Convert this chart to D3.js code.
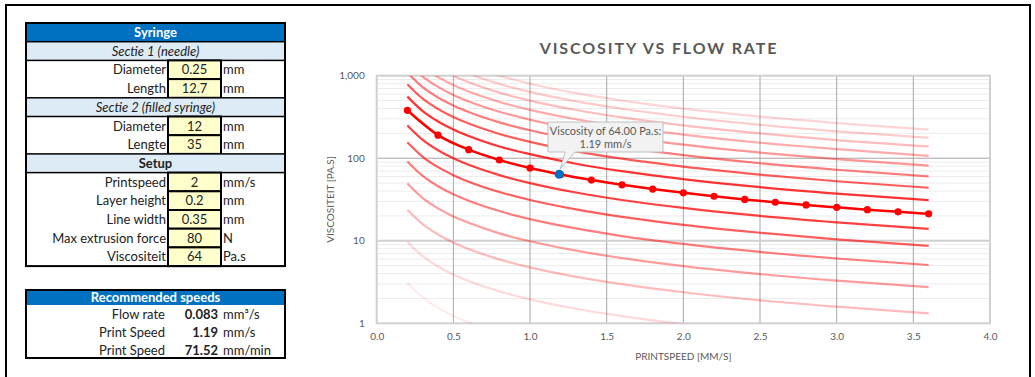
<!DOCTYPE html>
<html>
<head>
<meta charset="utf-8">
<script src="https://cdn.jsdelivr.net/npm/d3@7"></script>
<style>
  body { margin: 0; background: #fff; }
  text { font-family: Lato, "Open Sans", sans-serif; }
</style>
</head>
<body>
<script>
// syringe input table
const sectionTitles = ["Sectie 1 (needle)", "Sectie 2 (filled syringe)", "Setup"];
const paramLabels = [["Diameter", "Length"], ["Diameter", "Lengte"],
  ["Printspeed", "Layer height", "Line width", "Max extrusion force", "Viscositeit"]];
const paramValues = [["0.25", "12.7"], ["12", "35"], ["2", "0.2", "0.35", "80", "64"]];
const paramUnits = [["mm", "mm"], ["mm", "mm"], ["mm/s", "mm", "mm", "N", "Pa.s"]];

// results table
const resultLabels = ["Flow rate", "Print Speed", "Print Speed"];
const resultValues = ["0.083", "1.19", "71.52"];
const resultUnits = ["mm³/s", "mm/s", "mm/min"];

// main series (needle 0.25 mm)
const mainSpeeds = [0.2, 0.4, 0.6, 0.8, 1.0, 1.2, 1.4, 1.6, 1.8, 2.0, 2.2, 2.4, 2.6, 2.8, 3.0, 3.2, 3.4, 3.6];
const mainViscosity = [380.8, 190.4, 126.9, 95.2, 76.2, 63.5, 54.4, 47.6, 42.3, 38.1, 34.6, 31.7, 29.3, 27.2, 25.4, 23.8, 22.4, 21.2];

// other needle sizes
const curveSpeeds = [0.2, 0.3, 0.4, 0.5, 0.6, 0.8, 1.0, 1.3, 1.6, 2.0, 2.5, 3.0, 3.6];
const needleDiameters = [0.075, 0.1, 0.125, 0.15, 0.175, 0.2, 0.225, 0.275, 0.3, 0.325, 0.35, 0.375, 0.4, 0.425, 0.45];
const curveViscosity = [
  [3.09, 2.06, 1.54, 1.23, 1.03, 0.771, 0.617, 0.475, 0.386, 0.309, 0.247, 0.206, 0.171],
  [9.75, 6.5, 4.88, 3.9, 3.25, 2.44, 1.95, 1.5, 1.22, 0.975, 0.78, 0.65, 0.542],
  [23.8, 15.9, 11.9, 9.52, 7.93, 5.95, 4.76, 3.66, 2.98, 2.38, 1.9, 1.59, 1.32],
  [49.4, 32.9, 24.7, 19.7, 16.5, 12.3, 9.87, 7.59, 6.17, 4.94, 3.95, 3.29, 2.74],
  [91.5, 61, 45.7, 36.6, 30.5, 22.9, 18.3, 14.1, 11.4, 9.15, 7.32, 6.1, 5.08],
  [156, 104, 78, 62.4, 52, 39, 31.2, 24, 19.5, 15.6, 12.5, 10.4, 8.67],
  [250, 167, 125, 99.9, 83.3, 62.5, 50, 38.4, 31.2, 25, 20, 16.7, 13.9],
  [558, 372, 279, 223, 186, 139, 112, 85.8, 69.7, 55.8, 44.6, 37.2, 31],
  [790, 526, 395, 316, 263, 197, 158, 121, 98.7, 79, 63.2, 52.6, 43.9],
  [1088, 725, 544, 435, 363, 272, 218, 167, 136, 109, 87, 72.5, 60.4],
  [1463, 975, 732, 585, 488, 366, 293, 225, 183, 146, 117, 97.5, 81.3],
  [1928, 1285, 964, 771, 643, 482, 386, 297, 241, 193, 154, 129, 107],
  [2496, 1664, 1248, 998, 832, 624, 499, 384, 312, 250, 200, 166, 139],
  [3181, 2120, 1590, 1272, 1060, 795, 636, 489, 398, 318, 254, 212, 177],
  [3998, 2665, 1999, 1599, 1333, 999, 800, 615, 500, 400, 320, 267, 222]
];

const selectedSpeed = 1.19;
const selectedViscosity = 64;

const xTicks = [0, 0.5, 1, 1.5, 2, 2.5, 3, 3.5, 4];
const yTicks = [1, 10, 100, 1000];

const svg = d3.select("body").append("svg")
  .attr("width", 1035)
  .attr("height", 377);

// page frame
svg.append("path")
  .attr("d", "M6,380 V5 H1030 V380")
  .attr("fill", "none")
  .attr("stroke", "#000")
  .attr("stroke-width", 2);

//----- input table -----
const tbl = svg.append("g");
const tx0 = 26, tx1 = 285, colA = 168, colB = 221;
const rowH = 18.7, ty0 = 23;
let row = 0;

function rowY(r) { return ty0 + r * rowH; }

// header
tbl.append("rect").attr("x", tx0).attr("y", rowY(0)).attr("width", tx1 - tx0).attr("height", rowH)
  .attr("fill", "#0070c0");
tbl.append("text").attr("x", (tx0 + tx1) / 2).attr("y", rowY(0) + rowH / 2).attr("dy", "0.36em")
  .attr("text-anchor", "middle").attr("font-size", 13).attr("font-weight", "bold").attr("fill", "#fff")
  .text("Syringe");
row = 1;

sectionTitles.forEach(function(title, s) {
  const y = rowY(row);
  tbl.append("rect").attr("x", tx0).attr("y", y).attr("width", tx1 - tx0).attr("height", rowH)
    .attr("fill", "#ddebf7").attr("stroke", "#000").attr("stroke-width", 1.5);
  tbl.append("text").attr("x", (tx0 + tx1) / 2).attr("y", y + rowH / 2).attr("dy", "0.36em")
    .attr("text-anchor", "middle").attr("font-size", 13).attr("fill", "#222")
    .attr("font-style", s < 2 ? "italic" : "normal")
    .attr("font-weight", s < 2 ? "normal" : "bold")
    .text(title);
  row++;
  paramLabels[s].forEach(function(lab, i) {
    const yy = rowY(row);
    tbl.append("rect").attr("x", colA).attr("y", yy).attr("width", colB - colA).attr("height", rowH)
      .attr("fill", "#ffffcc").attr("stroke", "#000").attr("stroke-width", 2);
    tbl.append("text").attr("x", colA - 2).attr("y", yy + rowH / 2).attr("dy", "0.36em")
      .attr("text-anchor", "end").attr("font-size", 13).attr("fill", "#222").text(lab);
    tbl.append("text").attr("x", (colA + colB) / 2).attr("y", yy + rowH / 2).attr("dy", "0.36em")
      .attr("text-anchor", "middle").attr("font-size", 13).attr("fill", "#222").text(paramValues[s][i]);
    tbl.append("text").attr("x", colB + 2).attr("y", yy + rowH / 2).attr("dy", "0.36em")
      .attr("font-size", 13).attr("fill", "#222").text(paramUnits[s][i]);
    row++;
  });
});

tbl.append("rect").attr("x", tx0).attr("y", ty0).attr("width", tx1 - tx0).attr("height", row * rowH)
  .attr("fill", "none").attr("stroke", "#000").attr("stroke-width", 2);

//----- results table -----
const res = svg.append("g");
const ry0 = 290, rHead = 15, rRow = 18;
res.append("rect").attr("x", tx0).attr("y", ry0).attr("width", tx1 - tx0).attr("height", rHead)
  .attr("fill", "#0070c0");
res.append("text").attr("x", (tx0 + tx1) / 2).attr("y", ry0 + rHead / 2).attr("dy", "0.36em")
  .attr("text-anchor", "middle").attr("font-size", 13).attr("font-weight", "bold").attr("fill", "#fff")
  .text("Recommended speeds");
resultLabels.forEach(function(lab, i) {
  const y = ry0 + rHead + i * rRow + rRow / 2;
  res.append("text").attr("x", 165).attr("y", y).attr("dy", "0.36em")
    .attr("text-anchor", "end").attr("font-size", 13).attr("fill", "#222").text(lab);
  res.append("text").attr("x", 218).attr("y", y).attr("dy", "0.36em")
    .attr("text-anchor", "end").attr("font-size", 13).attr("font-weight", "bold").attr("fill", "#222")
    .text(resultValues[i]);
  res.append("text").attr("x", 223).attr("y", y).attr("dy", "0.36em")
    .attr("font-size", 13).attr("fill", "#222").text(resultUnits[i]);
});
res.append("rect").attr("x", tx0).attr("y", ry0).attr("width", tx1 - tx0)
  .attr("height", rHead + resultLabels.length * rRow - 1)
  .attr("fill", "none").attr("stroke", "#000").attr("stroke-width", 2);

//----- chart -----
const plot = { left: 376.7, right: 990, top: 75.7, bottom: 323.3 };

const x = d3.scaleLinear().domain([0, 4]).range([plot.left, plot.right]);
const y = d3.scaleLog().domain([1, 1000]).range([plot.bottom, plot.top]);

const chart = svg.append("g");

// minor horizontal grid
const minorVals = [];
[1, 10, 100].forEach(function(dec) {
  for (let m = 2; m <= 9; m++) minorVals.push(dec * m);
});
chart.append("g").selectAll("line").data(minorVals).enter().append("line")
  .attr("x1", plot.left).attr("x2", plot.right)
  .attr("y1", d => y(d)).attr("y2", d => y(d))
  .attr("stroke", "#ececec").attr("stroke-width", 1);

// vertical grid
chart.append("g").selectAll("line").data(xTicks.slice(1, -1)).enter().append("line")
  .attr("x1", d => x(d)).attr("x2", d => x(d))
  .attr("y1", plot.top).attr("y2", plot.bottom)
  .attr("stroke", "#a6a6a6").attr("stroke-width", 1);

// major horizontal grid
chart.append("line").attr("x1", plot.left).attr("x2", plot.right)
  .attr("y1", y(10)).attr("y2", y(10)).attr("stroke", "#d0d0d0").attr("stroke-width", 2);
chart.append("line").attr("x1", plot.left).attr("x2", plot.right)
  .attr("y1", y(100)).attr("y2", y(100)).attr("stroke", "#a6a6a6").attr("stroke-width", 1);

// plot border
chart.append("rect").attr("x", plot.left).attr("y", plot.top)
  .attr("width", plot.right - plot.left).attr("height", plot.bottom - plot.top)
  .attr("fill", "none").attr("stroke", "#d0d0d0").attr("stroke-width", 2);

svg.append("clipPath").attr("id", "plotclip").append("rect")
  .attr("x", plot.left).attr("y", plot.top)
  .attr("width", plot.right - plot.left).attr("height", plot.bottom - plot.top);

const line = d3.line()
  .x(d => x(d[0]))
  .y(d => y(d[1]))
  .curve(d3.curveMonotoneX);

const curves = chart.append("g").attr("clip-path", "url(#plotclip)");
curveViscosity.forEach(function(vals, i) {
  const k = Math.round((needleDiameters[i] - 0.25) / 0.025);
  const op = k < 0 ? Math.max(0.08, 0.87 - 0.12 * -k) : Math.pow(0.8, k);
  curves.append("path")
    .datum(curveSpeeds.map((s, j) => [s, vals[j]]))
    .attr("d", line)
    .attr("fill", "none")
    .attr("stroke", "#ff0000")
    .attr("stroke-opacity", op)
    .attr("stroke-width", 2.2);
});

// main series
curves.append("path")
  .datum(mainSpeeds.map((s, j) => [s, mainViscosity[j]]))
  .attr("d", line)
  .attr("fill", "none")
  .attr("stroke", "#ff0000")
  .attr("stroke-width", 2.5);

chart.append("g").selectAll("circle").data(mainSpeeds).enter().append("circle")
  .attr("cx", d => x(d))
  .attr("cy", (d, j) => y(mainViscosity[j]))
  .attr("r", 3.6)
  .attr("fill", "#ff0000");

// selected point
chart.append("circle")
  .attr("cx", x(selectedSpeed))
  .attr("cy", y(selectedViscosity))
  .attr("r", 4.5)
  .attr("fill", "#0070c0");

// axes
const yAxis = d3.axisLeft(y).tickValues(yTicks).tickFormat(d3.format(",")).tickSize(0).tickPadding(12);
const gy = chart.append("g").attr("transform", `translate(${plot.left},0)`).call(yAxis);
gy.select(".domain").remove();
gy.selectAll("text").attr("font-size", 10).attr("fill", "#595959").style("font-family", "Lato, sans-serif");

const xAxis = d3.axisBottom(x).tickValues(xTicks).tickFormat(d3.format(".1f")).tickSize(0).tickPadding(10);
const gx = chart.append("g").attr("transform", `translate(0,${plot.bottom})`).call(xAxis);
gx.select(".domain").remove();
gx.selectAll("text").attr("font-size", 10).attr("fill", "#595959").style("font-family", "Lato, sans-serif");

// titles
chart.append("text")
  .attr("x", 659).attr("y", 48).attr("dy", "0.36em")
  .attr("text-anchor", "middle")
  .attr("font-size", 16).attr("font-weight", "bold")
  .attr("letter-spacing", 1.9)
  .attr("fill", "#595959")
  .text("VISCOSITY VS FLOW RATE");

chart.append("text")
  .attr("transform", `translate(330,${(plot.top + plot.bottom) / 2}) rotate(-90)`)
  .attr("dy", "0.36em")
  .attr("text-anchor", "middle")
  .attr("font-size", 10).attr("fill", "#595959")
  .text("VISCOSITEIT [PA.S]");

chart.append("text")
  .attr("x", (plot.left + plot.right) / 2).attr("y", 356.5).attr("dy", "0.36em")
  .attr("text-anchor", "middle")
  .attr("font-size", 10).attr("fill", "#595959")
  .text("PRINTSPEED [MM/S]");

// callout
const px = x(selectedSpeed), py = y(selectedViscosity);
const bx0 = 548, bx1 = 663, by0 = 122, by1 = 152;
chart.append("path")
  .attr("d", `M${bx0},${by0} H${bx1} V${by1} H${px + 16} L${px + 1},${py - 5} L${px + 6},${by1} H${bx0} Z`)
  .attr("fill", "#f2f2f2")
  .attr("stroke", "#bfbfbf")
  .attr("stroke-width", 1);
chart.append("text")
  .attr("x", (bx0 + bx1) / 2).attr("y", 131).attr("dy", "0.36em")
  .attr("text-anchor", "middle").attr("font-size", 11).attr("fill", "#595959")
  .text(`Viscosity of ${selectedViscosity.toFixed(2)} Pa.s:`);
chart.append("text")
  .attr("x", (bx0 + bx1) / 2).attr("y", 144.5).attr("dy", "0.36em")
  .attr("text-anchor", "middle").attr("font-size", 11).attr("fill", "#595959")
  .text(`${selectedSpeed} mm/s`);
</script>
</body>
</html>
